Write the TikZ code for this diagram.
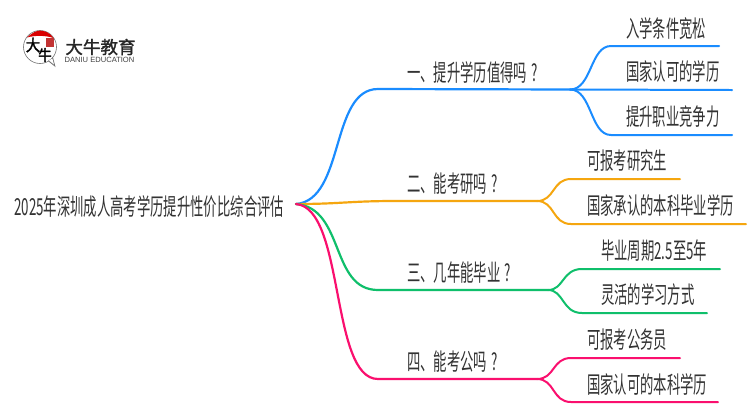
\documentclass[tikz,border=0pt]{standalone}
\usepackage{fontspec}
\newfontfamily\cjk[FakeStretch=0.57]{Noto Sans CJK SC}
\newfontfamily\cjkbold[FakeBold=1.5]{Noto Sans CJK SC}
\newfontfamily\cjksong[FakeStretch=0.9,FakeBold=2]{Noto Sans CJK SC}
\setsansfont{Liberation Sans}
\definecolor{cblue}{HTML}{1A8CFF}
\definecolor{corange}{HTML}{F5A60F}
\definecolor{cgreen}{HTML}{0FBF6B}
\definecolor{cpink}{HTML}{FA0F6E}
\definecolor{ctext}{HTML}{333333}
\tikzset{
  lab/.style={inner sep=0pt,text=ctext,font=\cjk\fontsize{23.5}{23.5}\selectfont,anchor=center},
  labw/.style={lab,anchor=base west},
  wire/.style={line width=2.2pt,line cap=round},
  wirethin/.style={line width=2pt,line cap=round},
}
\begin{document}
\begin{tikzpicture}[x=1bp,y=-1bp]
\useasboundingbox (0,0) rectangle (750,410);
\fill[white] (0,0) rectangle (750,410);
% logo
\draw[black!55,line width=0.6pt,fill=white] (40,47) circle (16.5);
\fill[black!55] (48,61) -- (55.5,67) -- (53,57.5) -- cycle;
\fill[white] (49,60.5) -- (54,64.5) -- (52.3,58.5) -- cycle;
\fill[red!85!black] (27,37.5) .. controls (32,33) and (36,30.6) .. (40,30.6) .. controls (45,30.6) and (50,33) .. (53.5,38) .. controls (46,35.5) and (36,35) .. cycle;
\fill[red!70!black!80] (46,38) rectangle (54,47);
\node[inner sep=0pt,text=black,font=\cjksong\fontsize{16}{16}\selectfont] (logoA) at (33,45) {大};
\node[inner sep=0pt,text=black,font=\cjksong\fontsize{15}{15}\selectfont] (logoB) at (45,55) {牛};
\node[inner sep=0pt,text=black!85,font=\cjkbold\fontsize{17.6}{18}\selectfont] (brand) at (100.5,47) {大牛教育};
\node[inner sep=0pt,text=black!75,font=\sffamily\fontsize{7.6}{8}\selectfont] (branden) at (99.5,60) {DANIU EDUCATION};
% junction coordinates
\coordinate (root) at (296,204);
\coordinate (b1s) at (378,89); \coordinate (j1) at (570,89.5);
\coordinate (b2s) at (395,201); \coordinate (j2) at (537,201);
\coordinate (b3s) at (378,290); \coordinate (j3) at (548,290);
\coordinate (b4s) at (378,379); \coordinate (j4) at (537,379);
\coordinate (l11) at (611,46); \coordinate (l11e) at (719,46);
\coordinate (l12e) at (732,90);
\coordinate (l13) at (611,135); \coordinate (l13e) at (732,135);
\coordinate (l21) at (571,179); \coordinate (l21e) at (680,179);
\coordinate (l22) at (571,224); \coordinate (l22e) at (746,224);
\coordinate (l31) at (582,269); \coordinate (l31e) at (720,269);
\coordinate (l32) at (582,313); \coordinate (l32e) at (707,313);
\coordinate (l41) at (571,358); \coordinate (l41e) at (680,358);
\coordinate (l42) at (571,402); \coordinate (l42e) at (718,402);
% branches
\draw[wire,cblue] (root) .. controls (345,200) and (330,89) .. (b1s) -- (j1);
\draw[wirethin,cblue] (j1) .. controls (592,89.5) and (590,46) .. (l11) -- (l11e);
\draw[wirethin,cblue] (j1) -- (l12e);
\draw[wirethin,cblue] (j1) .. controls (592,89.5) and (590,135) .. (l13) -- (l13e);
\draw[wire,corange] (root) .. controls (340,204) and (350,201) .. (b2s) -- (j2);
\draw[wirethin,corange] (j2) .. controls (555,201) and (552,179) .. (l21) -- (l21e);
\draw[wirethin,corange] (j2) .. controls (555,201) and (552,224) .. (l22) -- (l22e);
\draw[wire,cgreen] (root) .. controls (345,208) and (330,290) .. (b3s) -- (j3);
\draw[wirethin,cgreen] (j3) .. controls (564,290) and (562,269) .. (l31) -- (l31e);
\draw[wirethin,cgreen] (j3) .. controls (564,290) and (562,313) .. (l32) -- (l32e);
\draw[wire,cpink] (root) .. controls (345,208) and (330,379) .. (b4s) -- (j4);
\draw[wirethin,cpink] (j4) .. controls (555,379) and (552,358) .. (l41) -- (l41e);
\draw[wirethin,cpink] (j4) .. controls (555,379) and (552,402) .. (l42) -- (l42e);
% labels
\node[labw] (root label) at (14,215) {2025年深圳成人高考学历提升性价比综合评估};
\node[labw] (t1) at (407,81) {一、提升学历值得吗\hspace{4pt}?};
\node[labw] (t2) at (407,192) {二、能考研吗\hspace{4pt}?};
\node[labw] (t3) at (407,281) {三、几年能毕业\hspace{4pt}?};
\node[labw] (t4) at (407,370) {四、能考公吗\hspace{4pt}?};
\node[labw] (t11) at (626,37) {入学条件宽松};
\node[labw] (t12) at (626,80) {国家认可的学历};
\node[labw] (t13) at (626,125) {提升职业竞争力};
\node[labw] (t21) at (587,169) {可报考研究生};
\node[labw] (t22) at (587,214) {国家承认的本科毕业学历};
\node[labw] (t31) at (601,259) {毕业周期2.5至5年};
\node[labw] (t32) at (601,303) {灵活的学习方式};
\node[labw] (t41) at (587,348) {可报考公务员};
\node[labw] (t42) at (587,393) {国家认可的本科学历};
\end{tikzpicture}
\end{document}
